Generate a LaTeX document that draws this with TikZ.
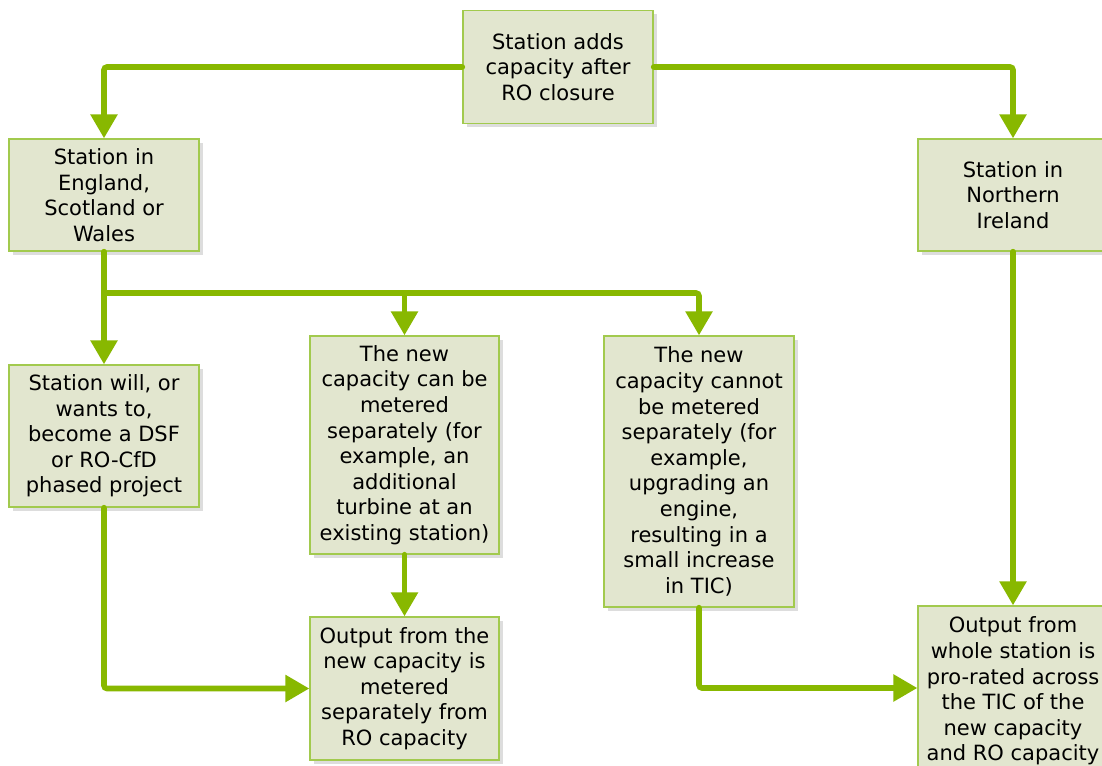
\documentclass[tikz,border=0pt]{standalone}
\usepackage{fontspec}
\setmainfont{DejaVu Sans}
\usetikzlibrary{arrows.meta,shadows}
\definecolor{lg}{HTML}{88B800}
\definecolor{bd}{HTML}{A2CA4E}
\definecolor{bf}{HTML}{E2E6CF}
\definecolor{shc}{HTML}{DDDDDD}
\begin{document}
\begin{tikzpicture}[x=1pt,y=-1pt,
  box/.style={draw=bd, line width=1.3pt, fill=bf, inner sep=0pt, align=center,
    font=\fontsize{21}{25.6}\selectfont,
    drop shadow={shadow xshift=4pt, shadow yshift=-4pt, fill=shc, opacity=1}},
  conn/.style={draw=lg, line width=5.6pt, line cap=round, rounded corners=3pt,
    -{Triangle[width=26pt,length=24pt]}}]
\fill[white] (0,0) rectangle (1102,765);
\useasboundingbox (0,0) rectangle (1102,765);

\node[box, minimum width=190pt, minimum height=113pt] (top) at (558,67) {Station adds\\capacity after\\RO closure};
\node[box, minimum width=190pt, minimum height=112pt] (eng) at (104,195) {Station in\\England,\\Scotland or\\Wales};
\node[box, minimum width=190pt, minimum height=112pt] (ni) at (1013,195) {Station in\\Northern\\Ireland};
\node[box, minimum width=190pt, minimum height=142pt] (will) at (104,436) {Station will, or\\wants to,\\become a DSF\\or RO-CfD\\phased project};
\node[box, minimum width=189pt, minimum height=218pt] (can) at (404.5,445) {The new\\capacity can be\\metered\\separately (for\\example, an\\additional\\turbine at an\\existing station)};
\node[box, minimum width=190pt, minimum height=271pt] (cannot) at (699,471.5) {The new\\capacity cannot\\be metered\\separately (for\\example,\\upgrading an\\engine,\\resulting in a\\small increase\\in TIC)};
\node[box, minimum width=189pt, minimum height=143pt] (outa) at (404.5,688.5) {Output from the\\new capacity is\\metered\\separately from\\RO capacity};
\node[box, minimum width=190pt, minimum height=170pt] (outb) at (1013,691) {Output from\\whole station is\\pro-rated across\\the TIC of the\\new capacity\\and RO capacity};

\coordinate (br) at (104,293);
\draw[conn] (top.west) -| (eng.north);
\draw[conn] (top.east) -| (ni.north);
\draw[conn] (eng.south) -- (will.north);
\draw[conn] (br) -| (cannot.north);
\draw[conn] (can.north |- br) -- (can.north);
\draw[conn] (will.south) |- (outa.west);
\draw[conn] (can.south) -- (outa.north);
\draw[conn] (cannot.south) |- ([yshift=3pt]outb.west);
\draw[conn] (ni.south) -- (outb.north);
\end{tikzpicture}
\end{document}
